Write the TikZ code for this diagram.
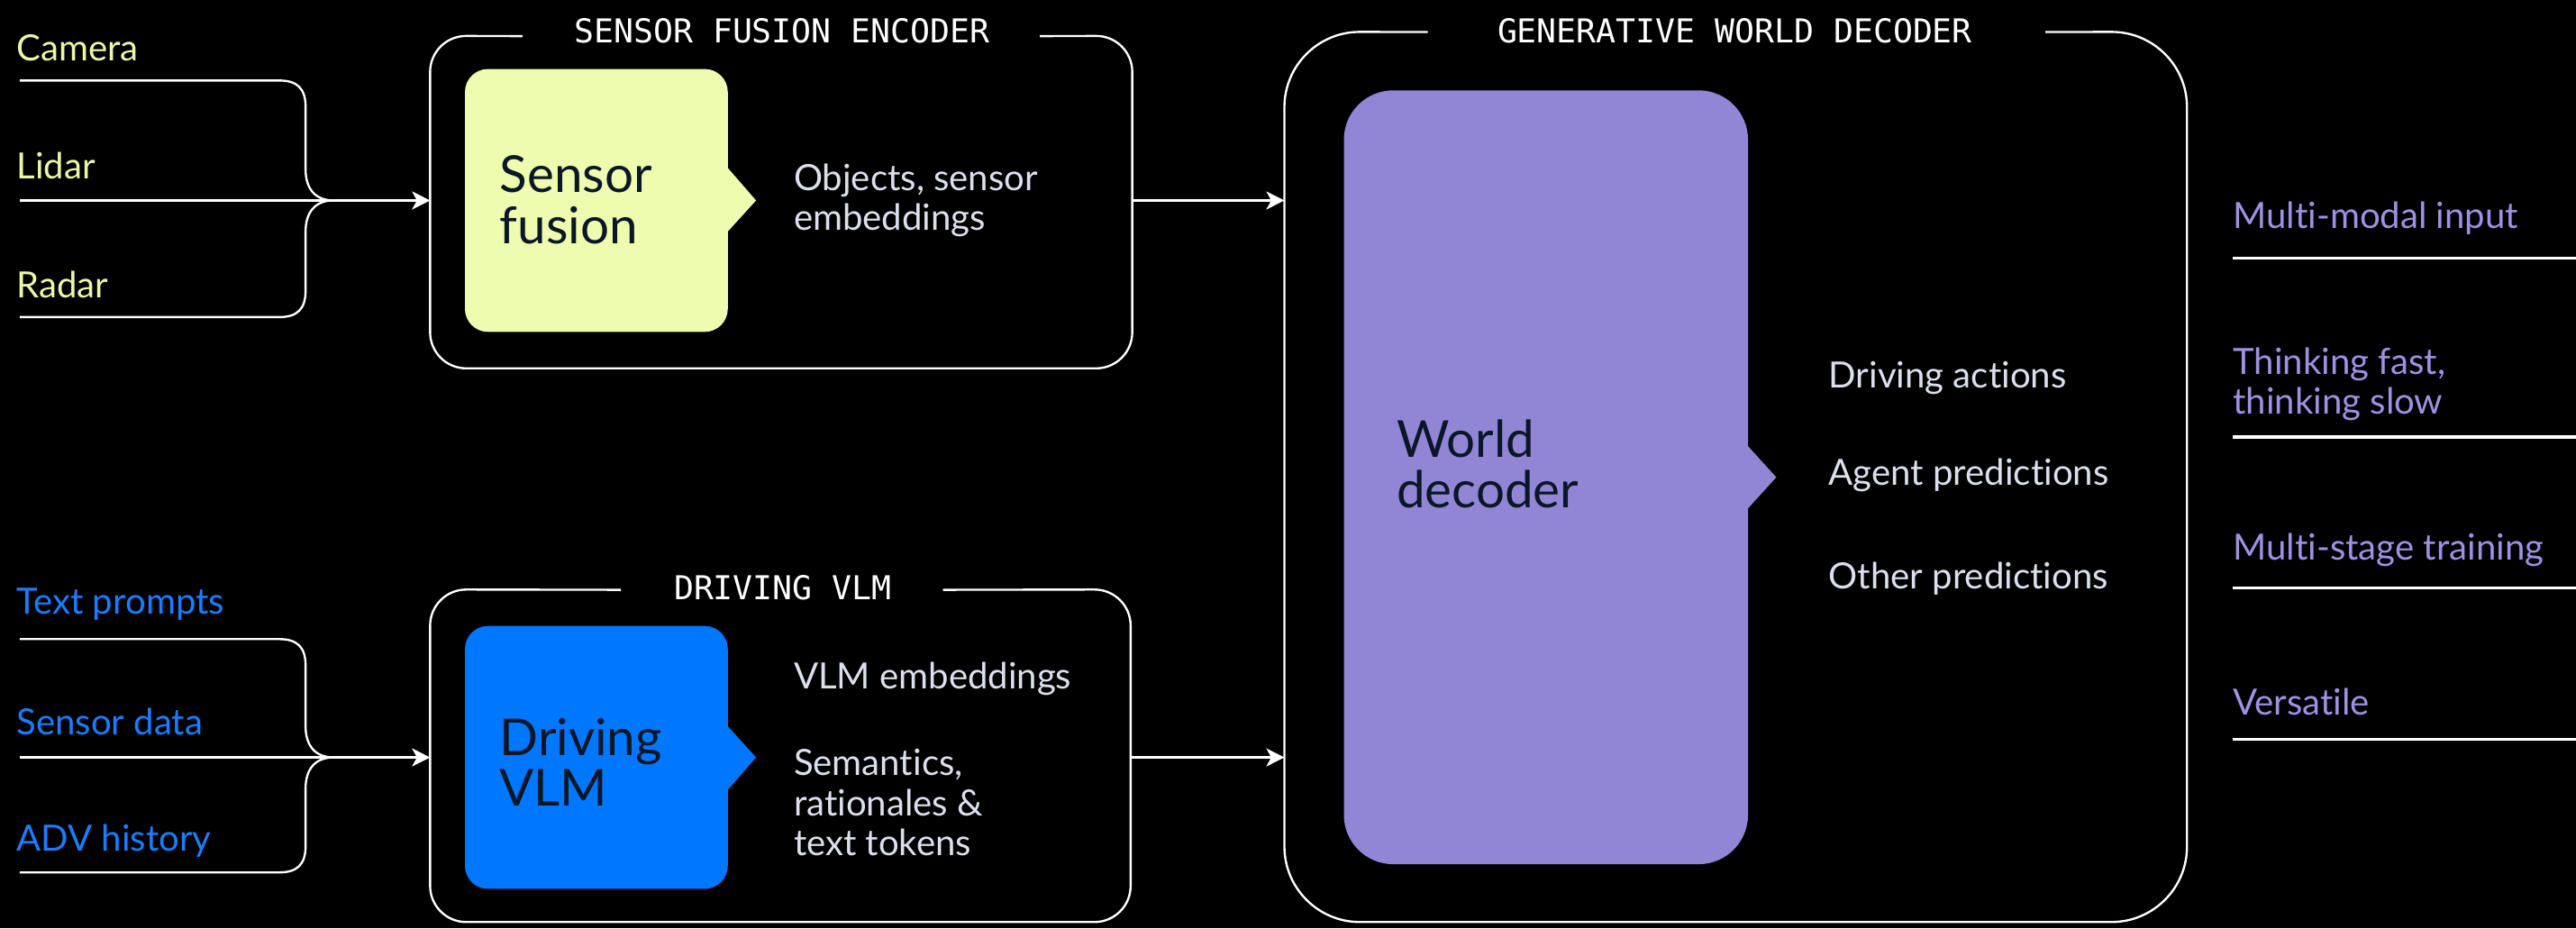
\documentclass[tikz,border=0pt]{standalone}
\usepackage{fontspec}
\setmainfont{Lato}[Ligatures=NoCommon]
\setmonofont{DejaVu Sans Mono}
\usetikzlibrary{arrows.meta,calc}
\definecolor{sfcol}{HTML}{EDFCAE}
\definecolor{sflab}{HTML}{E9F7A6}
\definecolor{vlmcol}{HTML}{0077FF}
\definecolor{vlmlab}{HTML}{1A7DFF}
\definecolor{wdcol}{HTML}{9185D5}
\definecolor{wdlab}{HTML}{9E91E3}
\definecolor{ink}{HTML}{0B1626}
\definecolor{gtext}{HTML}{DCE0EC}
\begin{document}
\begin{tikzpicture}[x=1pt,y=-1pt,
  lab/.style={anchor=west,inner sep=0pt,font=\fontsize{22}{24}\selectfont,align=left},
  big/.style={anchor=west,inner sep=0pt,font=\fontsize{31}{31}\selectfont,align=left,text=ink},
  title/.style={inner sep=0pt,font=\ttfamily\fontsize{20}{22}\selectfont,text=white},
  frame/.style={inner sep=0pt,draw=none},
  outline/.style={draw=white,line width=1.3pt},
  conn/.style={draw=white,line width=1.3pt},
  arr/.style={conn,-{Stealth[length=11pt,width=11pt,inset=3pt]}},
  corebox/.style={inner sep=0pt,draw=none},
  rule/.style={draw=white,line width=1.8pt}]
\fill[black] (0,0) rectangle (1568,565);
\useasboundingbox (0,0) rectangle (1568,565);

% ---------- outer frames ----------
\node[frame,minimum width=427pt,minimum height=202pt] (sfe) at (475.5,123) {};
\node[frame,minimum width=426pt,minimum height=202pt] (dvl) at (475,460) {};
\node[frame,minimum width=549pt,minimum height=541.5pt] (gwd) at (1056.5,290.25) {};
\draw[outline,rounded corners=22pt] (633,22) -- (sfe.north east) -- (sfe.south east) -- (sfe.south west) -- (sfe.north west) -- (318,22);
\draw[outline,rounded corners=22pt] (574,359) -- (dvl.north east) -- (dvl.south east) -- (dvl.south west) -- (dvl.north west) -- (378,359);
\draw[outline,rounded corners=46pt] (1245,19.5) -- (gwd.north east) -- (gwd.south east) -- (gwd.south west) -- (gwd.north west) -- (869,19.5);
\node[title] (sfet) at (476,18.5) {SENSOR FUSION ENCODER};
\node[title] (dvlt) at (476.5,357.5) {DRIVING VLM};
\node[title] (gwdt) at (1056,18.5) {GENERATIVE WORLD DECODER};

% ---------- core boxes ----------
\node[corebox,fill=sfcol,rounded corners=14pt,minimum width=160pt,minimum height=160pt] (sf) at (363,122) {};
\fill[sfcol] ($(sf.east)+(-3,-23)$) -- ($(sf.east)+(17,0)$) -- ($(sf.east)+(-3,22)$) -- cycle;
\node[corebox,fill=vlmcol,rounded corners=14pt,minimum width=160pt,minimum height=160pt] (vlm) at (363,461) {};
\fill[vlmcol] ($(vlm.east)+(-3,-22)$) -- ($(vlm.east)+(17,0)$) -- ($(vlm.east)+(-3,23)$) -- cycle;
\node[corebox,fill=wdcol,rounded corners=30pt,minimum width=246pt,minimum height=471pt] (wd) at (941,290.5) {};
\fill[wdcol] ($(wd.east)+(-3,-22)$) -- ($(wd.east)+(17,0)$) -- ($(wd.east)+(-3,22)$) -- cycle;

\node[big] (sft) at (304,121.5) {Sensor\\fusion};
\node[big] (vlmt) at (304,464) {Driving\\VLM};
\node[big] (wdt) at (850,282.5) {World\\decoder};

% ---------- intermediate texts ----------
\node[lab,text=gtext] (o1) at (483,122) {Objects, sensor\\embeddings};
\node[lab,text=gtext] (o2) at (483,413) {VLM embeddings};
\node[lab,text=gtext,font=\fontsize{22}{24.5}\selectfont] (o3) at (483,488.5) {Semantics,\\rationales \&\\text tokens};
\node[lab,text=gtext] (p1) at (1113,230) {Driving actions};
\node[lab,text=gtext] (p2) at (1113,289) {Agent predictions};
\node[lab,text=gtext] (p3) at (1113,352) {Other predictions};

% ---------- right column ----------
\node[lab,text=wdlab] (r1) at (1359,133) {Multi-modal input};
\node[lab,text=wdlab] (r2) at (1359,234) {Thinking fast,\\thinking slow};
\node[lab,text=wdlab] (r3) at (1359,335) {Multi-stage training};
\node[lab,text=wdlab] (r4) at (1359,427) {Versatile};
\draw[rule] (1359,157) -- (1568,157);
\draw[rule] (1359,266) -- (1568,266);
\draw[rule] (1359,358) -- (1568,358);
\draw[rule] (1359,450) -- (1568,450);

% ---------- inputs ----------
\node[lab,text=sflab] (cam) at (10,29) {Camera};
\node[lab,text=sflab] (lid) at (10,101) {Lidar};
\node[lab,text=sflab] (rad) at (10,173) {Radar};
\node[lab,text=vlmlab] (txt) at (10,368) {Text prompts};
\node[lab,text=vlmlab] (sen) at (10,439) {Sensor data};
\node[lab,text=vlmlab] (adv) at (10,512) {ADV history};

\coordinate (camS) at (12,49);
\coordinate (lidS) at (12,122);
\coordinate (radS) at (12,193);
\coordinate (jA) at (203,122);
\coordinate (txtS) at (12,389);
\coordinate (senS) at (12,461);
\coordinate (advS) at (12,531);
\coordinate (jB) at (203,461);

\draw[conn] (camS) -- (170,49) .. controls (181,49) and (186,54) .. (186,65) -- (186,103) .. controls (186,115) and (192,122) .. (jA);
\draw[conn] (radS) -- (170,193) .. controls (181,193) and (186,188) .. (186,177) -- (186,141) .. controls (186,129) and (192,122) .. (jA);
\draw[arr] (lidS) -- (sfe.west |- lidS);

\draw[conn] (txtS) -- (170,389) .. controls (181,389) and (186,394) .. (186,405) -- (186,442) .. controls (186,454) and (192,461) .. (jB);
\draw[conn] (advS) -- (170,531) .. controls (181,531) and (186,526) .. (186,515) -- (186,480) .. controls (186,468) and (192,461) .. (jB);
\draw[arr] (senS) -- (dvl.west |- senS);

% ---------- to decoder ----------
\draw[arr] (sfe.east |- lidS) -- (gwd.west |- lidS);
\draw[arr] (dvl.east |- senS) -- (gwd.west |- senS);
\end{tikzpicture}
\end{document}
